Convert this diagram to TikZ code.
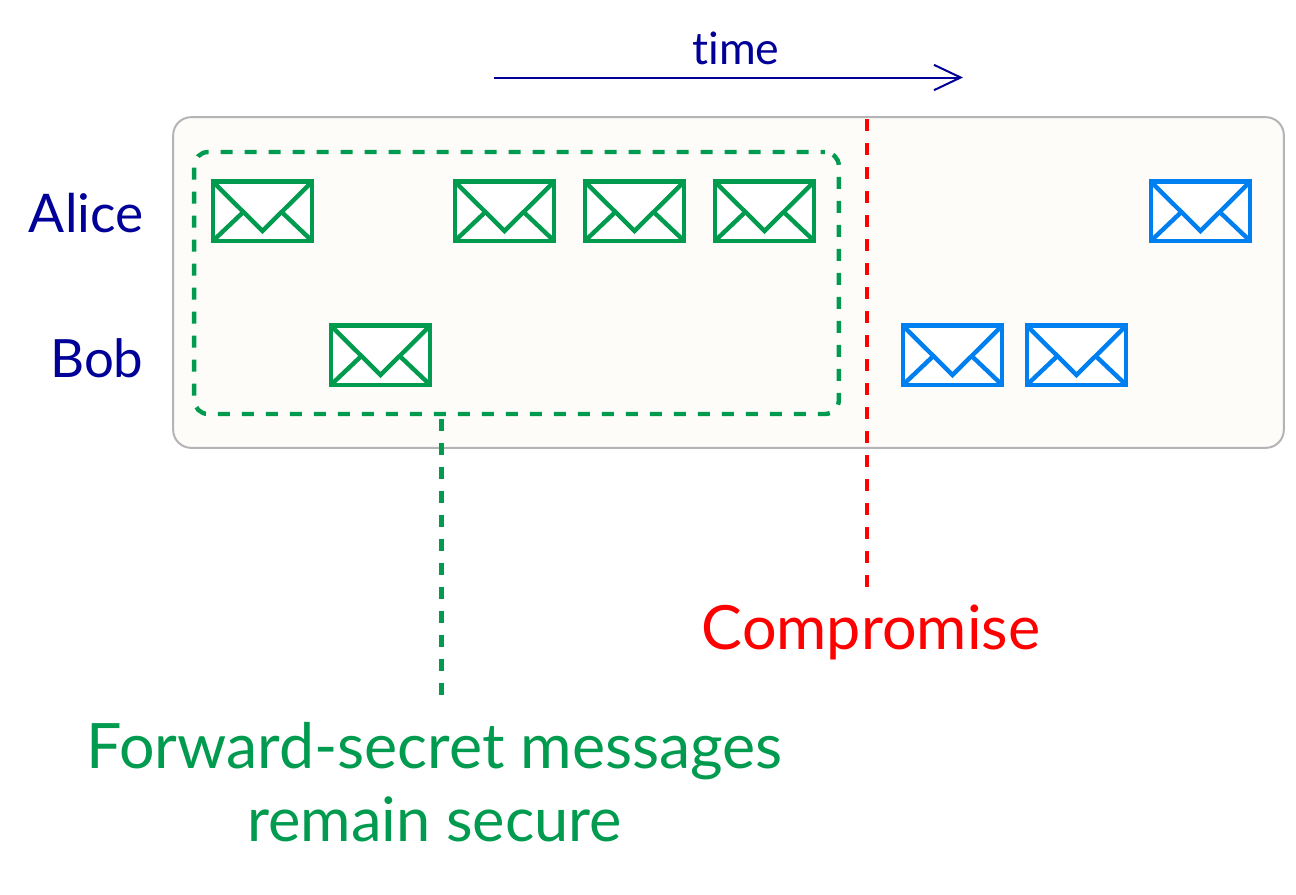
\documentclass[tikz,border=0pt]{standalone}
\usepackage{fontspec}
\setmainfont[Ligatures=NoCommon]{Lato}
\usetikzlibrary{arrows.meta,calc}
\definecolor{navy}{HTML}{000099}
\definecolor{sgreen}{HTML}{009B4E}
\definecolor{sblue}{HTML}{0080F0}
\definecolor{paper}{HTML}{FDFCF9}
\definecolor{frame}{HTML}{B4B4B4}
\newcommand{\envelope}[4]{%
  \node[envbox,draw=#4] (#1) at (#2,#3) {};
  \draw[envline,draw=#4] (#1.north west) -- ($(#1.south)+(0,-10)$) -- (#1.north east);
  \draw[envline,draw=#4] (#1.south west) -- ($(#1.center)+(-20,1.5)$);
  \draw[envline,draw=#4] (#1.south east) -- ($(#1.center)+(20,1.5)$);
}
\tikzset{
  x=0.75pt,y=-0.75pt,
  envbox/.style={rectangle,fill=white,line width=3.3pt,minimum width=74.5pt,minimum height=44.5pt,inner sep=0pt,outer sep=0pt},
  envline/.style={line width=3.3pt,line join=miter},
  lab/.style={inner sep=0pt,outer sep=0pt},
  dashgreen/.style={draw=sgreen,line width=3.3pt,dash pattern=on 9pt off 9pt},
  dashred/.style={draw=red,line width=3.3pt,dash pattern=on 9pt off 9pt},
}
\begin{document}
\begin{tikzpicture}
\useasboundingbox (0,0) rectangle (1296,894);
\node[rectangle,draw=frame,fill=paper,line width=1.5pt,rounded corners=13.5pt,minimum width=833pt,minimum height=248pt,inner sep=0pt] (panel) at (728.5,282.5) {};
\node[rectangle,dashgreen,dash phase=5.8pt,rounded corners=10.5pt,minimum width=483.5pt,minimum height=196.5pt,inner sep=0pt,outer sep=0pt] (secure) at (516.5,283) {};
\coordinate (ts) at (494,77.5);
\coordinate (te) at (963,77.5);
\draw[navy,line width=1.5pt,-{Straight Barb[length=20pt,width=19pt,line width=1.5pt]}] (ts) -- (te);
\node[lab,text=navy,font=\fontsize{33.5}{34}\selectfont,anchor=base] (time) at (736,64.5) {time};
\node[lab,text=navy,font=\fontsize{40}{42}\selectfont,anchor=base east] (alice) at (143.5,232.5) {Alice};
\node[lab,text=navy,font=\fontsize{39.6}{42}\selectfont,anchor=base east] (bob) at (143.5,377.5) {Bob};
\envelope{g1}{262.5}{211.3}{sgreen}
\envelope{g2}{504.5}{211.3}{sgreen}
\envelope{g3}{634.5}{211.3}{sgreen}
\envelope{g4}{764.5}{211.3}{sgreen}
\envelope{g5}{380.5}{355.3}{sgreen}
\envelope{b1}{1200.5}{211.3}{sblue}
\envelope{b2}{952.5}{355.3}{sblue}
\envelope{b3}{1076.5}{355.3}{sblue}
\coordinate (rt) at (867,119);
\node[lab,text=red,font=\fontsize{45.8}{50}\selectfont,anchor=base] (comp) at (871,649) {Compromise};
\coordinate (re) at (867,587);
\draw[dashred] (rt) -- (re);
\coordinate (ge) at (441.5,695);
\draw[dashgreen,dash phase=14.25pt] (secure.south -| ge) -- (ge);
\node[lab,text=sgreen,font=\fontsize{46}{55}\selectfont,align=center,anchor=north] (fs) at (434.5,722) {{\fontsize{47}{55}\selectfont Forward-secret messages}\\remain secure};
\end{tikzpicture}
\end{document}
